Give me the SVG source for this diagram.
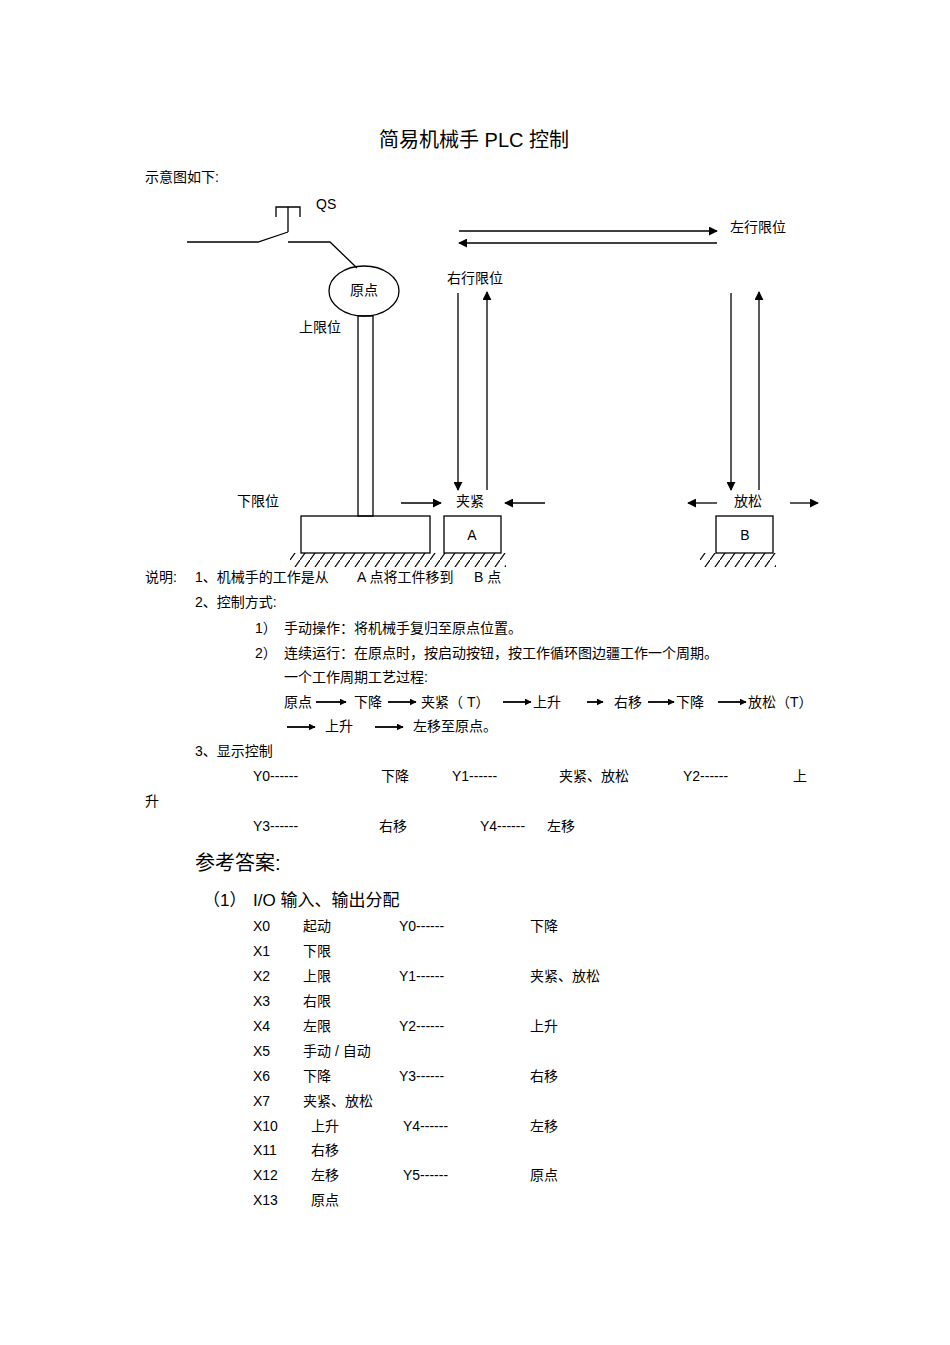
<svg xmlns="http://www.w3.org/2000/svg" width="950" height="1345" viewBox="0 0 950 1345">
<style>
text{font-family:"Liberation Sans","Noto Sans CJK SC",sans-serif;font-size:14px;fill:#000;dominant-baseline:middle}
.l{stroke:#000;stroke-width:1.3;fill:none}
.big{font-size:20px}
.mid{font-size:17px}
</style>
<defs>
<marker id="a" viewBox="0 0 10 10" refX="9" refY="5" markerWidth="7" markerHeight="7" orient="auto" markerUnits="userSpaceOnUse"><path d="M0,0L10,5L0,10z" fill="#000"/></marker>
<marker id="b" viewBox="0 0 10 10" refX="9" refY="5" markerWidth="9" markerHeight="9" orient="auto" markerUnits="userSpaceOnUse"><path d="M0,0L10,5L0,10z" fill="#000"/></marker>
<pattern id="h" width="10" height="14" patternUnits="userSpaceOnUse"><path d="M10,0L0,14" stroke="#000" stroke-width="1.2"/></pattern>
</defs>
<rect width="950" height="1345" fill="#fff"/>
<text x="474" y="142" class="big" text-anchor="middle">简易机械手  PLC 控制</text>
<text x="145" y="178">示意图如下:</text>
<g id="switch">
<text x="316" y="205">QS</text>
<path class="l" d="M187,242H258L288,232M288,242H330L357,268M276,217V207H300V217M288,207V232"/>
</g>
<g id="origin"><ellipse cx="364" cy="291" rx="35" ry="25" class="l"/><text x="364" y="291" text-anchor="middle">原点</text></g>
<g id="column"><rect x="358" y="316" width="15" height="200" class="l"/></g>
<text x="320" y="328" text-anchor="middle">上限位</text>
<text x="258" y="502" text-anchor="middle">下限位</text>
<g id="base"><rect x="301" y="516" width="129" height="37" class="l"/></g>
<g id="A"><rect x="444" y="516" width="57" height="37" class="l"/><text x="472" y="536" text-anchor="middle">A</text></g>
<g id="B"><rect x="716" y="516" width="57" height="37" class="l"/><text x="745" y="536" text-anchor="middle">B</text></g>
<rect x="290" y="553" width="216" height="14" fill="url(#h)"/>
<rect x="700" y="553" width="76" height="14" fill="url(#h)"/>
<text x="758" y="228" text-anchor="middle">左行限位</text>
<text x="475" y="279" text-anchor="middle">右行限位</text>
<text x="470" y="502" text-anchor="middle">夹紧</text>
<text x="748" y="502" text-anchor="middle">放松</text>
<g id="connectors" class="l" marker-end="url(#b)">
<path d="M459,231H717"/><path d="M717,243H459"/>
<path d="M458,293V490"/><path d="M487,490V292"/>
<path d="M731,293V490"/><path d="M759,490V292"/>
<path d="M401,503H441"/><path d="M545,503H505"/>
<path d="M717,503H688"/><path d="M790,503H818"/>
<g marker-end="url(#a)" stroke-width="1.8">
<path d="M316,702H346"/><path d="M388,702H416"/><path d="M503,702H531"/><path d="M587,702H603"/><path d="M648,702H674"/><path d="M718,702H746"/>
<path d="M287,727H315"/><path d="M375,727H403"/>
</g>
</g>
<g id="texts">
<text x="145" y="578">说明:</text><text x="195" y="578">1、机械手的工作是从</text><text x="357" y="578">A 点将工件移到</text><text x="474" y="578">B 点</text>
<text x="195" y="603">2、控制方式:</text>
<text x="255" y="629">1）</text><text x="284" y="629">手动操作：将机械手复归至原点位置。</text>
<text x="255" y="654">2）</text><text x="284" y="654">连续运行：在原点时，按启动按钮，按工作循环图边疆工作一个周期。</text>
<text x="284" y="678">一个工作周期工艺过程:</text>
<text x="284" y="703">原点</text><text x="354" y="703">下降</text><text x="421" y="703">夹紧（ T）</text><text x="533" y="703">上升</text><text x="614" y="703">右移</text><text x="676" y="703">下降</text><text x="748" y="703">放松（T）</text>
<text x="325" y="727">上升</text><text x="413" y="727">左移至原点。</text>
<text x="195" y="752">3、显示控制</text>
<text x="253" y="777">Y0------</text><text x="381" y="777">下降</text><text x="452" y="777">Y1------</text><text x="559" y="777">夹紧、放松</text><text x="683" y="777">Y2------</text><text x="793" y="777">上</text>
<text x="145" y="802">升</text>
<text x="253" y="827">Y3------</text><text x="379" y="827">右移</text><text x="480" y="827">Y4------</text><text x="547" y="827">左移</text>
<text x="195" y="865" class="big">参考答案:</text>
<text x="203" y="902" class="mid">（1）</text><text x="253" y="902" class="mid">I/O  输入、输出分配</text>
<text x="253" y="927">X0</text><text x="303" y="927">起动</text><text x="399" y="927">Y0------</text><text x="530" y="927">下降</text>
<text x="253" y="952">X1</text><text x="303" y="952">下限</text>
<text x="253" y="977">X2</text><text x="303" y="977">上限</text><text x="399" y="977">Y1------</text><text x="530" y="977">夹紧、放松</text>
<text x="253" y="1002">X3</text><text x="303" y="1002">右限</text>
<text x="253" y="1027">X4</text><text x="303" y="1027">左限</text><text x="399" y="1027">Y2------</text><text x="530" y="1027">上升</text>
<text x="253" y="1052">X5</text><text x="303" y="1052">手动 / 自动</text>
<text x="253" y="1077">X6</text><text x="303" y="1077">下降</text><text x="399" y="1077">Y3------</text><text x="530" y="1077">右移</text>
<text x="253" y="1102">X7</text><text x="303" y="1102">夹紧、放松</text>
<text x="253" y="1127">X10</text><text x="311" y="1127">上升</text><text x="403" y="1127">Y4------</text><text x="530" y="1127">左移</text>
<text x="253" y="1151">X11</text><text x="311" y="1151">右移</text>
<text x="253" y="1176">X12</text><text x="311" y="1176">左移</text><text x="403" y="1176">Y5------</text><text x="530" y="1176">原点</text>
<text x="253" y="1201">X13</text><text x="311" y="1201">原点</text>
</g>
</svg>
